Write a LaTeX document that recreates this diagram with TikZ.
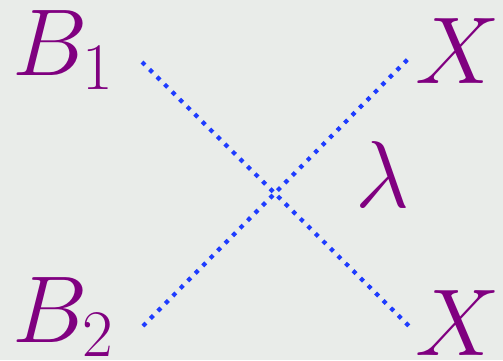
\RequirePackage{fix-cm}
\documentclass[tikz,border=0pt]{standalone}
\definecolor{bgc}{RGB}{233,236,233}
\definecolor{purp}{RGB}{128,0,128}
\definecolor{dotblue}{RGB}{30,60,255}
\begin{document}
\begin{tikzpicture}[x=1pt,y=-1pt,
  lbl/.style={inner sep=0pt,anchor=base west,text=purp,font=\fontsize{95}{100}\selectfont},
  dotline/.style={draw=dotblue,line width=4.2pt,dash pattern=on 4.2pt off 6.4pt}]
\fill[bgc] (0,0) rectangle (503,360);
\useasboundingbox (0,0) rectangle (503,360);
% labels
\node[lbl] (b1) at (12,75) {$B_1$};
\node[lbl] (b2) at (12,342) {$B_2$};
\node[lbl] (x1) at (415,83) {$X$};
\node[lbl] (x2) at (415,355) {$X$};
\node[lbl] (lam) at (355.5,207) {$\lambda$};
% lines
\coordinate (a1) at (142,62);
\coordinate (a2) at (411,328);
\coordinate (c1) at (143,326);
\coordinate (c2) at (409,58);
\draw[dotline] (a1) -- (a2);
\draw[dotline] (c1) -- (c2);
\end{tikzpicture}
\end{document}
